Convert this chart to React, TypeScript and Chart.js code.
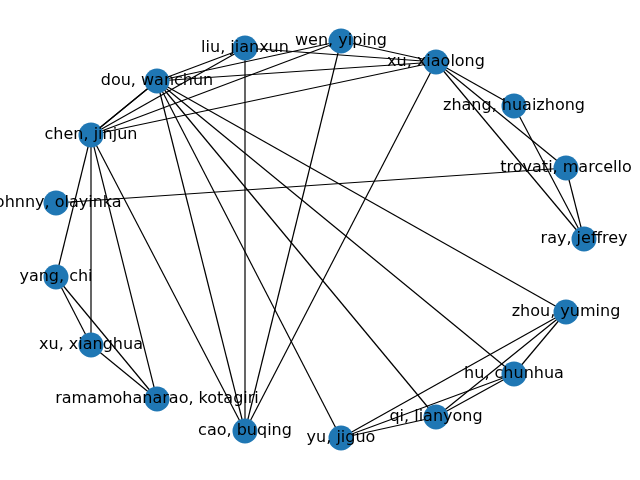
import React, { useEffect, useRef } from "react";
import { Chart, registerables } from "chart.js";
Chart.register(...registerables);

const nodeNames = [
  "wen, yiping", "liu, jianxun", "xu, xiaolong", "dou, wanchun", "zhang, huaizhong",
  "chen, jinjun", "trovati, marcello", "johnny, olayinka", "ray, jeffrey", "yang, chi",
  "zhou, yuming", "xu, xianghua", "hu, chunhua", "ramamohanarao, kotagiri", "qi, lianyong",
  "cao, buqing", "yu, jiguo",
];
const nodeX = [341, 245, 436, 157, 514, 91, 566, 56, 584, 56, 566, 91, 514, 157, 436, 245, 341];
const nodeY = [41, 48, 62, 81, 106, 135, 168, 203, 239, 277, 312, 345, 374, 399, 417, 431, 438];
const edgeFrom = [
  "xu, xiaolong", "xu, xiaolong", "xu, xiaolong", "xu, xiaolong", "xu, xiaolong", "xu, xiaolong", "xu, xiaolong", "xu, xiaolong",
  "zhang, huaizhong", "trovati, marcello", "johnny, olayinka",
  "dou, wanchun", "dou, wanchun", "dou, wanchun", "dou, wanchun", "dou, wanchun", "dou, wanchun", "dou, wanchun", "dou, wanchun",
  "wen, yiping", "liu, jianxun",
  "chen, jinjun", "chen, jinjun", "chen, jinjun", "chen, jinjun", "chen, jinjun", "chen, jinjun", "chen, jinjun",
  "yang, chi", "yang, chi", "xu, xianghua",
  "zhou, yuming", "zhou, yuming", "zhou, yuming", "hu, chunhua", "hu, chunhua", "qi, lianyong",
];
const edgeTo = [
  "zhang, huaizhong", "trovati, marcello", "ray, jeffrey", "cao, buqing", "wen, yiping", "liu, jianxun", "dou, wanchun", "chen, jinjun",
  "ray, jeffrey", "ray, jeffrey", "trovati, marcello",
  "liu, jianxun", "wen, yiping", "chen, jinjun", "cao, buqing", "yu, jiguo", "qi, lianyong", "hu, chunhua", "zhou, yuming",
  "cao, buqing", "cao, buqing",
  "liu, jianxun", "wen, yiping", "yang, chi", "xu, xianghua", "ramamohanarao, kotagiri", "cao, buqing", "dou, wanchun",
  "xu, xianghua", "ramamohanarao, kotagiri", "ramamohanarao, kotagiri",
  "hu, chunhua", "qi, lianyong", "yu, jiguo", "qi, lianyong", "yu, jiguo", "yu, jiguo",
];

const pt = (name: string) => {
  const i = nodeNames.indexOf(name);
  return { x: nodeX[i], y: nodeY[i] };
};

const labelPlugin = {
  id: "nodeLabels",
  afterDatasetsDraw(chart: any) {
    const { ctx, scales } = chart;
    ctx.save();
    ctx.font = "16px 'DejaVu Sans'";
    ctx.fillStyle = "#000";
    ctx.textAlign = "center";
    ctx.textBaseline = "middle";
    nodeNames.forEach((n, i) => {
      ctx.fillText(n, scales.x.getPixelForValue(nodeX[i]), scales.y.getPixelForValue(nodeY[i]));
    });
    ctx.restore();
  },
};

export default function App() {
  const ref = useRef<HTMLCanvasElement>(null);
  useEffect(() => {
    const datasets: any[] = edgeFrom.map((f, i) => ({
      type: "line",
      data: [pt(f), pt(edgeTo[i])],
      borderColor: "#000",
      borderWidth: 1.2,
      pointRadius: 0,
      showLine: true,
      clip: false,
      order: 2,
    }));
    datasets.push({
      type: "scatter",
      data: nodeNames.map((n) => pt(n)),
      backgroundColor: "#1f77b4",
      borderWidth: 0,
      pointRadius: 12.5,
      clip: false,
      order: 1,
    });
    const chart = new Chart(ref.current!, {
      type: "scatter",
      data: { datasets },
      options: {
        animation: false,
        responsive: false,
        layout: { padding: 0, autoPadding: false },
        plugins: { legend: { display: false }, tooltip: { enabled: false } },
        scales: {
          x: { type: "linear", min: 0, max: 640, display: false },
          y: { type: "linear", min: 0, max: 480, reverse: true, display: false },
        },
      },
      plugins: [labelPlugin],
    });
    return () => chart.destroy();
  }, []);
  return (
    <div style={{ position: "absolute", left: 0, top: 0, width: 640, height: 480, background: "#fff" }}>
      <canvas ref={ref} width={640} height={480} style={{ width: 640, height: 480 }} />
    </div>
  );
}
